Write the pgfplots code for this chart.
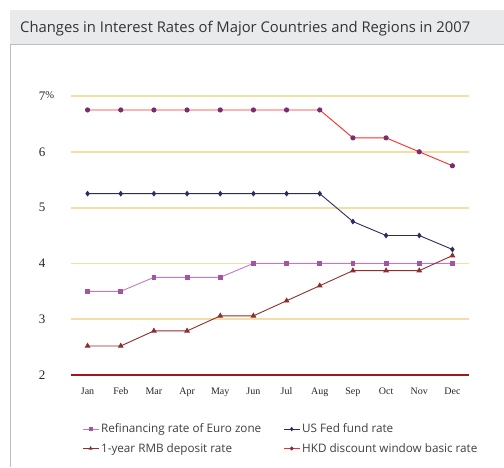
\documentclass[border=0pt]{standalone}
\usepackage{pgfplots}
\pgfplotsset{compat=1.18}
\usepackage{fontspec}
\setmainfont{Liberation Serif}
\newfontfamily\sans{Open Sans}
\definecolor{bandgray}{HTML}{E9EAEB}
\definecolor{bordergray}{HTML}{BDBDBD}
\definecolor{gridbeige}{HTML}{F5DEA4}
\definecolor{axisred}{HTML}{A01818}
\definecolor{euroline}{HTML}{C07BC0}
\definecolor{euromark}{HTML}{A355A3}
\definecolor{usnavy}{HTML}{2B2D5E}
\definecolor{rmbred}{HTML}{8E2F2F}
\definecolor{hkdred}{HTML}{FF2A2A}
\definecolor{hkdmark}{HTML}{7A2C6E}
\begin{document}
\begin{tikzpicture}
\useasboundingbox (0pt,0pt) rectangle (504pt,467pt);
\fill[white] (0pt,0pt) rectangle (504pt,467pt);
\fill[bandgray] (10pt,423pt) rectangle (504pt,457pt);
\draw[bordergray,line width=0.8pt] (10pt,423pt) -- (504pt,423pt);
\draw[bordergray,line width=1pt] (10pt,0pt) -- (10pt,423pt);
\node[anchor=base west,font=\sans\fontsize{14.8}{17}\selectfont,text=black!80,inner sep=0pt] at (20pt,434pt) {Changes in Interest Rates of Major Countries and Regions in 2007};
\begin{axis}[
  at={(71pt,92pt)}, anchor=south west,
  scale only axis, width=398pt, height=279pt,
  xmin=-0.5, xmax=11.5, ymin=2, ymax=7,
  axis line style={draw=none},
  tick style={draw=none},
  major tick length=0pt,
  clip=false,
  xtick={0,...,11},
  xticklabels={Jan,Feb,Mar,Apr,May,Jun,Jul,Aug,Sep,Oct,Nov,Dec},
  ytick={2,3,4,5,6,7},
  yticklabels={2,3,4,5,6,{7\rlap{\raisebox{0.35ex}{\fontsize{10.5}{12}\selectfont\%}}}},
  xticklabel style={font=\fontsize{10}{11}\selectfont, text=black!85, yshift=-9pt},
  yticklabel style={font=\fontsize{13}{14}\selectfont, text=black!85, xshift=-22pt},
  /pgf/number format/assume math mode=true,
  legend columns=2,
  legend cell align=left,
  legend style={at={(0.02,-0.16)}, anchor=north west, draw=none, fill=none,
    font=\sans\fontsize{11.7}{14}\selectfont, text=black!75,
    /tikz/every even column/.append style={column sep=20pt},
    row sep=5pt},
  legend image code/.code={\draw[#1] (0pt,0pt) -- (16pt,0pt); \draw[#1, only marks, mark size=1.5pt] plot coordinates {(8pt,0pt)};},
]
\draw[gridbeige, line width=1.8pt] (axis cs:-0.5,3) -- (axis cs:11.5,3);
\draw[gridbeige, line width=1.8pt] (axis cs:-0.5,4) -- (axis cs:11.5,4);
\draw[gridbeige, line width=1.8pt] (axis cs:-0.5,5) -- (axis cs:11.5,5);
\draw[gridbeige, line width=1.8pt] (axis cs:-0.5,6) -- (axis cs:11.5,6);
\draw[gridbeige, line width=1.8pt] (axis cs:-0.5,7) -- (axis cs:11.5,7);
\draw[axisred, line width=2.5pt] (axis cs:-0.5,2) -- (axis cs:11.5,2);
\addplot[color=euroline, line width=0.9pt, mark=square*, mark size=1.9pt, mark options={draw=euromark, fill=euromark}]
coordinates {(0,3.5)(1,3.5)(2,3.75)(3,3.75)(4,3.75)(5,4)(6,4)(7,4)(8,4)(9,4)(10,4)(11,4)};
\addlegendentry{Refinancing rate of Euro zone}
\addplot[color=usnavy, line width=0.9pt, mark=diamond*, mark size=2.2pt, mark options={draw=usnavy, fill=usnavy}]
coordinates {(0,5.25)(1,5.25)(2,5.25)(3,5.25)(4,5.25)(5,5.25)(6,5.25)(7,5.25)(8,4.75)(9,4.5)(10,4.5)(11,4.25)};
\addlegendentry{US Fed fund rate}
\addplot[color=rmbred, line width=0.9pt, mark=triangle*, mark size=2.5pt, mark options={draw=rmbred, fill=rmbred}]
coordinates {(0,2.52)(1,2.52)(2,2.79)(3,2.79)(4,3.06)(5,3.06)(6,3.33)(7,3.60)(8,3.87)(9,3.87)(10,3.87)(11,4.14)};
\addlegendentry{1-year RMB deposit rate}
\addplot[color=hkdred, line width=0.9pt, mark=*, mark size=2.1pt, mark options={draw=hkdmark, fill=hkdmark}]
coordinates {(0,6.75)(1,6.75)(2,6.75)(3,6.75)(4,6.75)(5,6.75)(6,6.75)(7,6.75)(8,6.25)(9,6.25)(10,6.0)(11,5.75)};
\addlegendentry{HKD discount window basic rate}
\end{axis}
\end{tikzpicture}
\end{document}
